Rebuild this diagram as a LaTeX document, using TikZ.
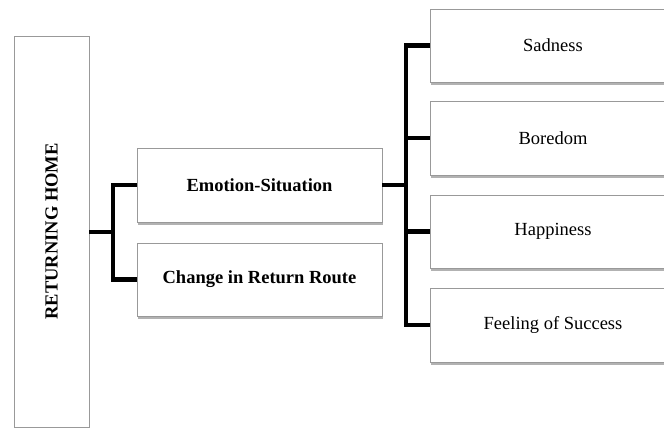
\documentclass[tikz,border=0pt]{standalone}
\usepackage{fontspec}
\setmainfont{Liberation Serif}
\usetikzlibrary{shadows}
\begin{document}
\begin{tikzpicture}[x=1pt,y=-1pt,
  box/.style={draw=black!40, line width=0.9pt, fill=white, rectangle,
    inner sep=0pt, align=center,
    drop shadow={opacity=0.55, fill=black!55, shadow xshift=0.6pt, shadow yshift=-2.6pt},
    font=\fontsize{18.5}{21}\selectfont},
  headbox/.style={box, font=\fontsize{18.5}{21}\selectfont\bfseries},
  link/.style={draw=black, line width=4.2pt, line join=miter}]
\useasboundingbox (0,0) rectangle (664,428);

% root
\node[headbox, minimum width=75pt, minimum height=391pt] (root) at (51.5,231.5)
  {\rotatebox{90}{RETURNING HOME}};

% second level
\node[headbox, minimum width=245pt, minimum height=74pt] (emo) at (259.5,185) {Emotion-Situation};
\node[headbox, minimum width=245pt, minimum height=73pt] (route) at (259.5,279.5) {Change in Return Route};

% third level
\node[box, minimum width=246pt, minimum height=73pt] (sad) at (553,45.5) {Sadness};
\node[box, minimum width=246pt, minimum height=74pt] (bore) at (553,138) {Boredom};
\node[box, minimum width=246pt, minimum height=73pt] (happy) at (553,231.5) {Happiness};
\node[box, minimum width=246pt, minimum height=74pt] (succ) at (553,325) {Feeling of Success};

% connectors
\coordinate (j1) at (113,232);
\coordinate (j2) at (406,185);
\draw[link] (root.east |- j1) -- (j1);
\draw[link] (emo.west) -| (j1) |- (route.west);
\draw[link] (emo.east) -- (j2);
\draw[link] (sad.west) -| (j2 |- sad.west) |- (succ.west);
\draw[link] (j2) |- (bore.west);
\draw[link] (j2) |- (happy.west);
\end{tikzpicture}
\end{document}
